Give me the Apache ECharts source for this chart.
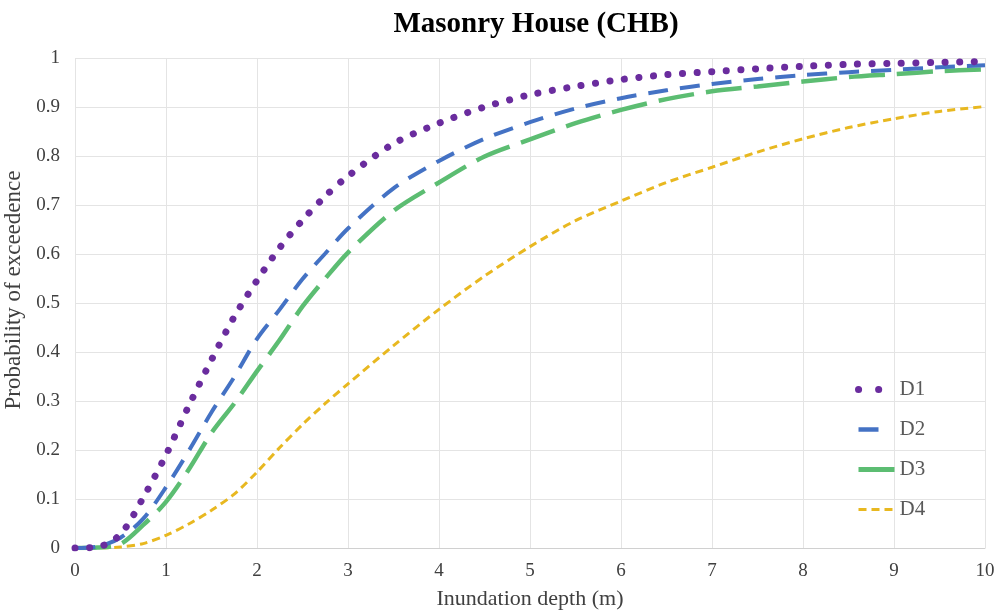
<!DOCTYPE html>
<html>
<head>
<meta charset="utf-8">
<script src="https://cdn.jsdelivr.net/npm/echarts@6/dist/echarts.min.js"></script>
<style>html,body{margin:0;padding:0;background:#fff}#c{width:995px;height:614px}</style>
</head>
<body>
<div id="c"></div>
<script>
const depth = [0, 0.25, 0.5, 0.75, 1, 1.25, 1.5, 1.75, 2, 2.25, 2.5, 2.75, 3, 3.5, 4, 4.5, 5, 5.5, 6, 6.5, 7, 7.5, 8, 8.5, 9, 9.5, 10];
const d1 = [0, 0.002, 0.028, 0.103, 0.19, 0.29, 0.384, 0.472, 0.546, 0.613, 0.669, 0.718, 0.759, 0.825, 0.867, 0.9, 0.925, 0.942, 0.956, 0.966, 0.972, 0.978, 0.983, 0.987, 0.989, 0.991, 0.993];
const d2 = [0, 0.003, 0.021, 0.06, 0.124, 0.198, 0.277, 0.349, 0.427, 0.487, 0.549, 0.601, 0.652, 0.734, 0.79, 0.835, 0.869, 0.897, 0.918, 0.934, 0.947, 0.957, 0.965, 0.971, 0.976, 0.981, 0.985];
const d3 = [0, 0.001, 0.008, 0.047, 0.094, 0.16, 0.235, 0.295, 0.361, 0.425, 0.493, 0.55, 0.603, 0.688, 0.746, 0.799, 0.834, 0.867, 0.894, 0.916, 0.932, 0.942, 0.952, 0.961, 0.967, 0.973, 0.977];
const d4 = [0, 0, 0.002, 0.009, 0.026, 0.049, 0.077, 0.11, 0.155, 0.205, 0.252, 0.295, 0.335, 0.413, 0.487, 0.555, 0.615, 0.668, 0.708, 0.746, 0.777, 0.808, 0.835, 0.858, 0.876, 0.891, 0.901];
const seriesNames = ['D1', 'D2', 'D3', 'D4'];
const titleText = 'Masonry House (CHB)';
const xName = 'Inundation depth (m)';
const yName = 'Probability of exceedence';

const pair = arr => depth.map((x, i) => [x, arr[i]]);
const font = '"Liberation Serif", "Times New Roman", serif';
const styles = [
  {color: '#6a2c9e', width: 7, type: [0.1, 14.5], cap: 'round'},
  {color: '#4472c4', width: 4, type: [20, 12], cap: 'butt'},
  {color: '#5cbd72', width: 4.5, type: [36, 12], cap: 'butt'},
  {color: '#e8b820', width: 3, type: [8, 5], cap: 'butt'}
];
const legendLine = [
  {width: 7, type: [0.1, 20], cap: 'round'},
  {width: 4.5, type: [20, 30], cap: 'butt'},
  {width: 5, type: 'solid', cap: 'butt'},
  {width: 3, type: [8, 5], cap: 'butt'}
];
const datas = [d1, d2, d3, d4];

const chart = echarts.init(document.getElementById('c'));
chart.setOption({
  animation: false,
  backgroundColor: '#fff',
  title: {
    text: titleText, left: 531, top: 5, textAlign: 'center',
    textStyle: {fontFamily: font, fontWeight: 'bold', fontSize: 29, color: '#000'}
  },
  grid: {left: 75, right: 10, top: 58, bottom: 66, outerBoundsMode: 'none', containLabel: false},
  legend: {
    orient: 'vertical', left: 850, top: 374, itemGap: 19, itemWidth: 36, itemHeight: 20,
    textStyle: {fontFamily: font, fontSize: 21, color: '#595959'},
    itemStyle: {opacity: 0},
    data: seriesNames.map((n, i) => ({name: n, lineStyle: {color: styles[i].color, ...legendLine[i]}}))
  },
  xAxis: {
    type: 'value', min: 0, max: 10, interval: 1,
    name: xName, nameLocation: 'middle', nameGap: 40,
    nameTextStyle: {fontFamily: font, fontSize: 22, color: '#404040'},
    axisLine: {show: true, lineStyle: {color: '#d0d0d0'}},
    axisTick: {show: false},
    axisLabel: {fontFamily: font, fontSize: 19, color: '#404040', margin: 14},
    splitLine: {show: true, lineStyle: {color: '#e4e4e4'}}
  },
  yAxis: {
    type: 'value', min: 0, max: 1, interval: 0.1,
    name: yName, nameLocation: 'middle', nameGap: 38,
    nameTextStyle: {fontFamily: font, fontSize: 23, color: '#404040', padding: [0, 0, 0, 26]},
    axisLine: {show: false},
    axisTick: {show: false},
    axisLabel: {fontFamily: font, fontSize: 19, color: '#404040', margin: 15,
      formatter: v => String(Math.round(v * 10) / 10)},
    splitLine: {show: true, lineStyle: {color: '#e4e4e4'}}
  },
  series: seriesNames.map((n, i) => ({
    name: n, type: 'line', data: pair(datas[i]),
    showSymbol: false, symbol: 'none', smooth: 0.3,
    color: styles[i].color,
    lineStyle: {color: styles[i].color, width: styles[i].width, type: styles[i].type, cap: styles[i].cap},
    z: 10 - i
  }))
});
</script>
</body>
</html>
